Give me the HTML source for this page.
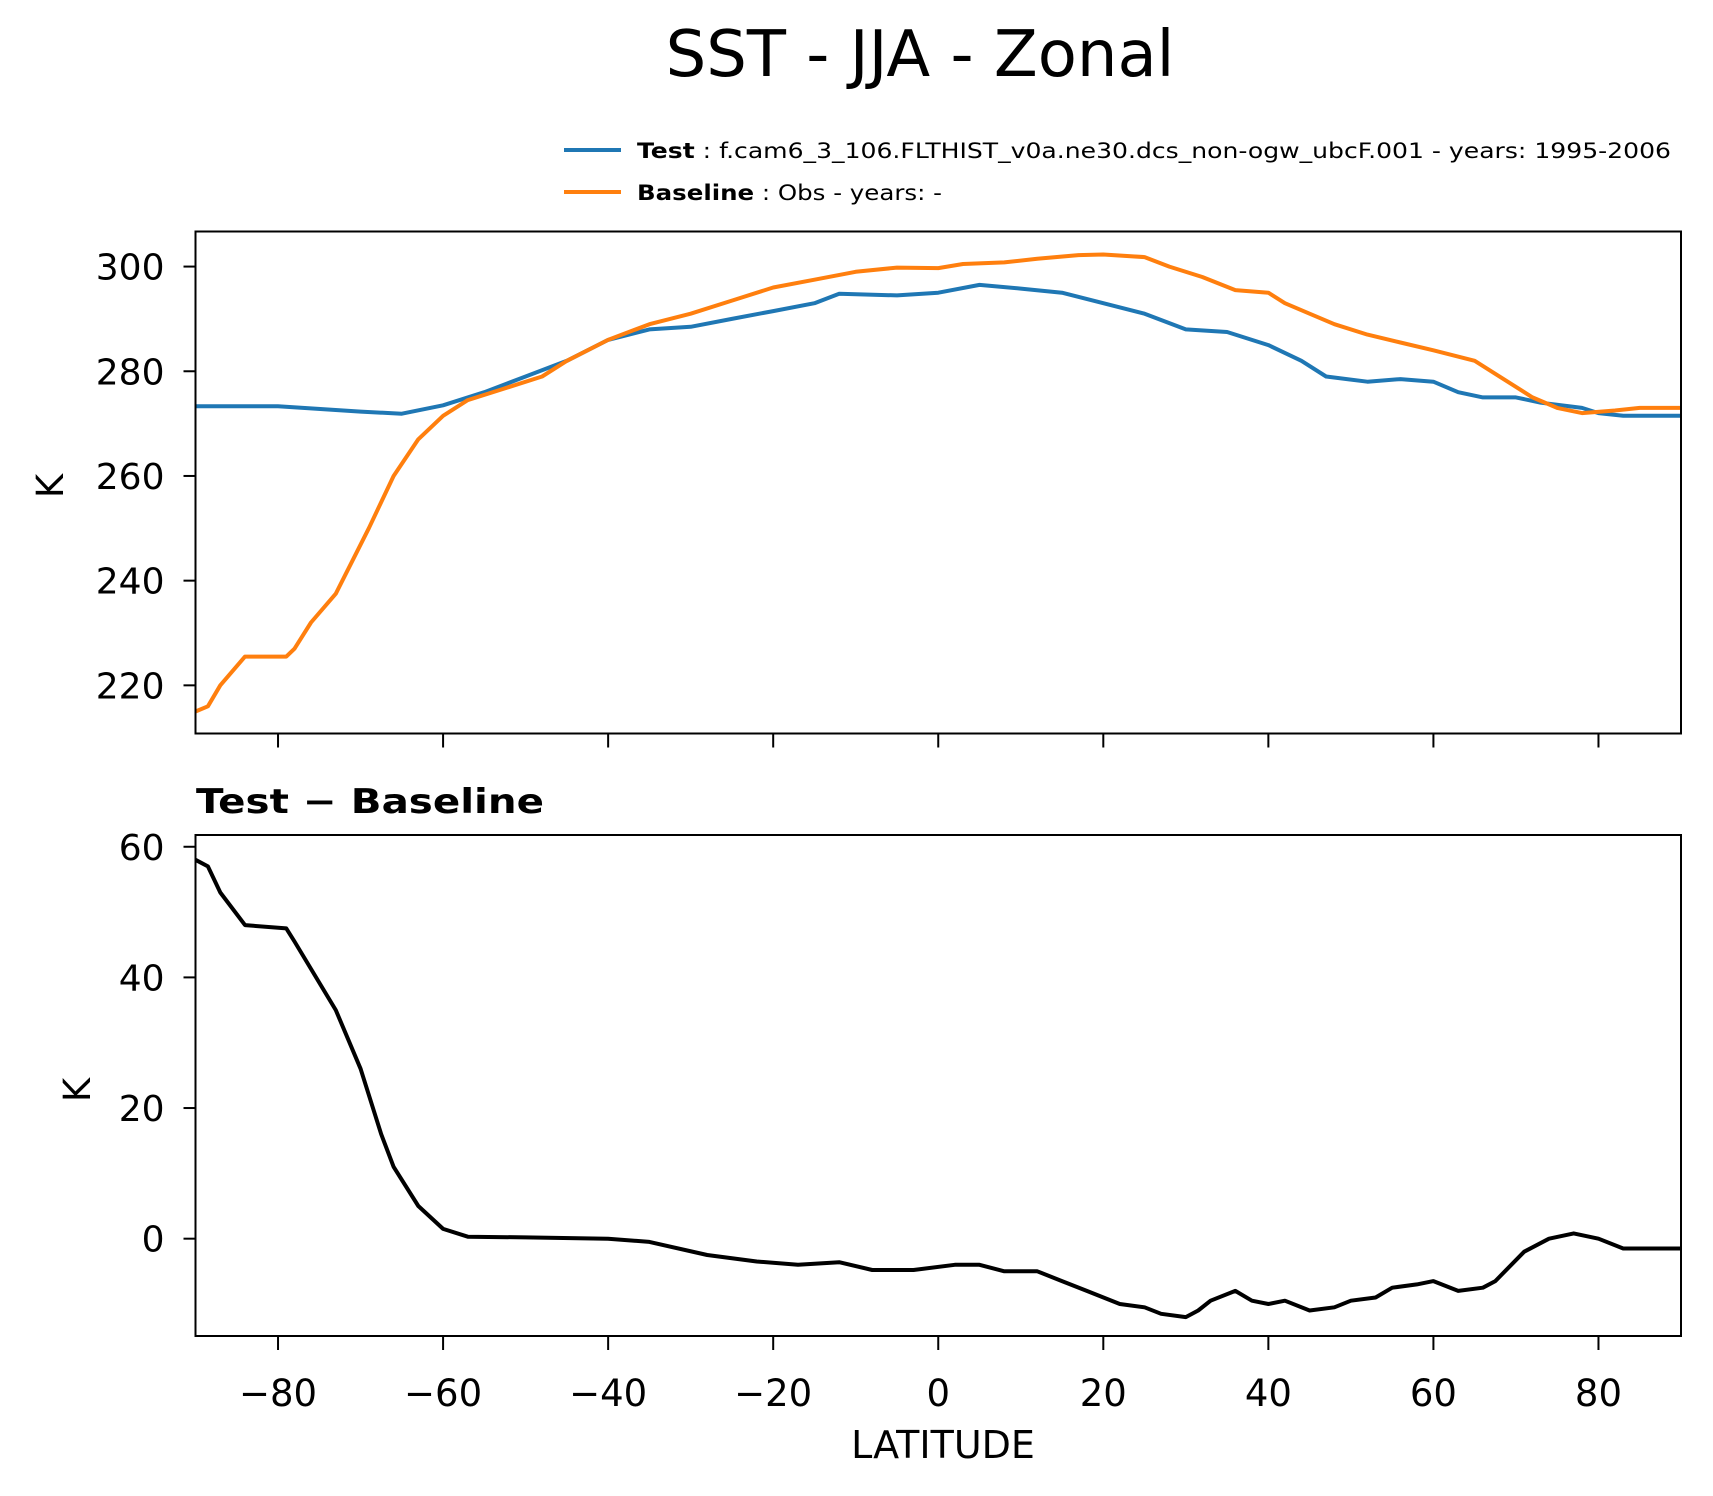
<!DOCTYPE html>
<html><head><meta charset="utf-8"><style>body{margin:0;background:#fff}svg{display:block;font-family:"DejaVu Sans","Liberation Sans",sans-serif}</style></head>
<body>
<svg id="chart" width="1713" height="1496" viewBox="0 0 1713 1496" xmlns="http://www.w3.org/2000/svg">
<rect width="1713" height="1496" fill="#fff"/>
<text x="920" y="76" font-size="64" text-anchor="middle">SST - JJA - Zonal</text>
<g>
<line x1="564" y1="150" x2="621" y2="150" stroke="#1f77b4" stroke-width="4"/>
<text x="637" y="158" font-size="21" textLength="1034" lengthAdjust="spacingAndGlyphs"><tspan font-weight="bold">Test</tspan> : f.cam6_3_106.FLTHIST_v0a.ne30.dcs_non-ogw_ubcF.001 - years: 1995-2006</text>
<line x1="564" y1="192" x2="621" y2="192" stroke="#ff7f0e" stroke-width="4"/>
<text x="637" y="200" font-size="21" textLength="305" lengthAdjust="spacingAndGlyphs"><tspan font-weight="bold">Baseline</tspan> : Obs - years: -</text>
</g>
<g id="top"></g>
<g id="bot"></g>
<text x="63" y="486" font-size="37" text-anchor="middle" transform="rotate(-90 63 486)">K</text>
<text x="90" y="1090" font-size="37" text-anchor="middle" transform="rotate(-90 90 1090)">K</text>
<text x="196" y="813" font-size="34" font-weight="bold" textLength="348" lengthAdjust="spacingAndGlyphs">Test − Baseline</text>
<text x="943" y="1458" font-size="38" text-anchor="middle">LATITUDE</text>
</svg>
<script>
const testLat=[-90,-80,-70,-65,-60,-55,-50,-45,-40,-35,-30,-25,-20,-15,-12,-5,0,5,10,15,20,25,30,35,40,44,47,52,56,60,63,66,70,73,78,80,83,90];
const testVal=[273.3,273.3,272.3,271.9,273.5,276,279,282,286,288,288.5,290,291.5,293,294.8,294.5,295,296.5,295.8,295,293,291,288,287.5,285,282,279,278,278.5,278,276,275,275,274,273,272,271.5,271.5];
const baseLat=[-90,-88.5,-87,-84,-79,-78,-76,-73,-69,-66,-63,-60,-57,-53,-48,-45,-40,-35,-30,-25,-20,-15,-10,-5,0,3,8,12,17,20,25,28,32,36,40,42,45,48,52,56,60,65,69,72,75,78,82,85,90];
const baseVal=[215,216,220,225.5,225.5,227,232,237.5,250,260,267,271.5,274.5,276.5,279,282,286,289,291,293.5,296,297.5,299,299.8,299.7,300.5,300.8,301.5,302.2,302.3,301.8,300,298,295.5,295,293,291,289,287,285.5,284,282,278,275,273,272,272.5,273,273];
const diffLat=[-90,-88.5,-87,-84,-79,-78,-73,-70,-67.5,-66,-63,-60,-57,-50,-40,-35,-28,-22,-17,-12,-8,-3,2,5,8,12,15,18,22,25,27,30,31.5,33,36,38,40,42,45,48,50,53,55,58,60,63,66,67.5,71,74,77,80,83,90];
const diffVal=[58,57,53,48,47.5,45.5,35,26,16,11,5,1.5,0.3,0.2,0,-0.5,-2.5,-3.5,-4,-3.6,-4.8,-4.8,-4,-4,-5,-5,-6.5,-8,-10,-10.5,-11.5,-12,-11,-9.5,-8,-9.5,-10,-9.5,-11,-10.5,-9.5,-9,-7.5,-7,-6.5,-8,-7.5,-6.5,-2,0,0.8,0,-1.5,-1.5];
const xTicks=[-80,-60,-40,-20,0,20,40,60,80];
const topTicks=[220,240,260,280,300];
const botTicks=[0,20,40,60];
const NS='http://www.w3.org/2000/svg';
const L=195.5,R=1681;
const xs=v=>L+(v+90)/180*(R-L);
function mk(p,t,a){const e=document.createElementNS(NS,t);for(const k in a)e.setAttribute(k,a[k]);p.appendChild(e);return e;}
function panel(g,T,B,ymin,ymax,ticks,series,showX){
  const ys=v=>B-(v-ymin)/(ymax-ymin)*(B-T);
  for(const s of series){
    const d=s.lat.map((la,i)=>(i?'L':'M')+xs(la).toFixed(1)+','+ys(s.val[i]).toFixed(1)).join('');
    const p=mk(g,'path',{d:d,fill:'none',stroke:s.c,'stroke-width':4,'stroke-linejoin':'round'});
    
    
  }
  const f=mk(g,'rect',{x:L,y:T,width:R-L,height:B-T,fill:'none',stroke:'#000','stroke-width':2});
  
  
  for(const t of ticks){
    const y=ys(t);
    const tk=mk(g,'line',{x1:L-12,x2:L,y1:y,y2:y,stroke:'#000','stroke-width':2});
    
    
    const tx=mk(g,'text',{x:L-31,y:y+13,'font-size':36,'text-anchor':'end'});
    tx.textContent=t;
    
    
  }
  for(const t of xTicks){
    const x=xs(t);
    const tk=mk(g,'line',{x1:x,x2:x,y1:B,y2:B+14,stroke:'#000','stroke-width':2});
    
    
    if(showX){
      const tx=mk(g,'text',{x:x,y:B+70,'font-size':37,'text-anchor':'middle'});
      tx.textContent=t<0?'\u2212'+(-t):t;
      
      
    }
  }
}
panel(document.getElementById('top'),231.5,733.5,210.8,306.7,topTicks,[{lat:testLat,val:testVal,c:'#1f77b4',n:'test-line'},{lat:baseLat,val:baseVal,c:'#ff7f0e',n:'baseline-line'}],false);
panel(document.getElementById('bot'),835,1336,-14.9,61.8,botTicks,[{lat:diffLat,val:diffVal,c:'#000',n:'difference-line'}],true);
</script>
</body></html>
